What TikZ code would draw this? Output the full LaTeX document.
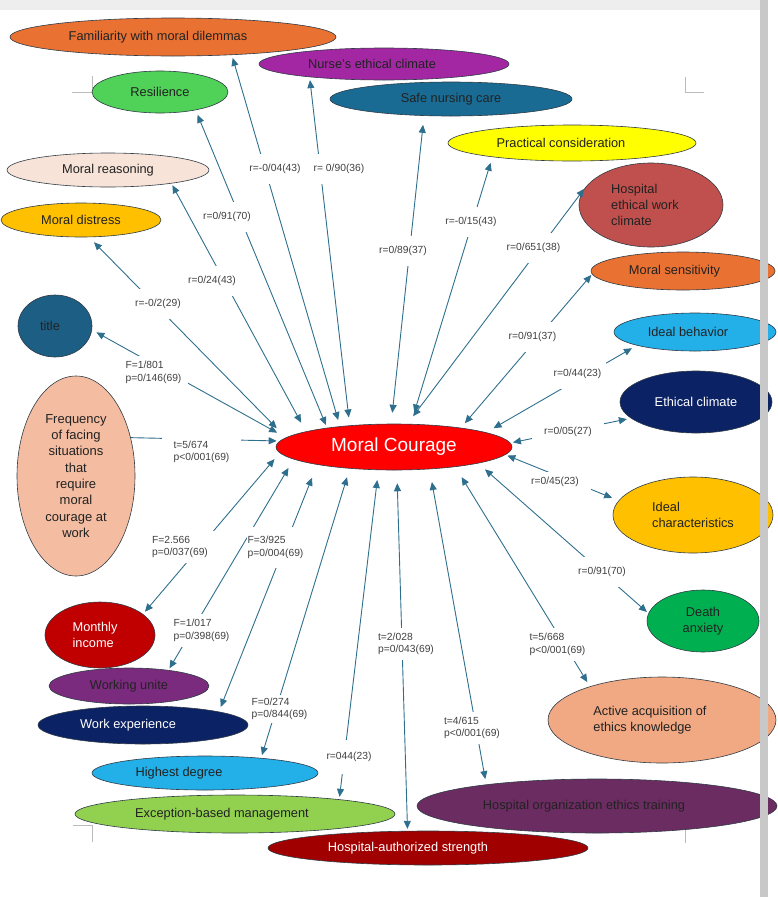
\documentclass[tikz,border=0pt]{standalone}
\usepackage{fontspec}
\setmainfont{Liberation Sans}
\usetikzlibrary{shapes.geometric,arrows.meta}
\definecolor{cFam}{HTML}{E97132}
\definecolor{cNurse}{HTML}{A327A3}
\definecolor{cRes}{HTML}{50D158}
\definecolor{cSafe}{HTML}{196B94}
\definecolor{cPrac}{HTML}{FFFF00}
\definecolor{cReas}{HTML}{F7E3D8}
\definecolor{cHewc}{HTML}{C0504D}
\definecolor{cDist}{HTML}{FFC000}
\definecolor{cSens}{HTML}{E97132}
\definecolor{cTitle}{HTML}{1D5E85}
\definecolor{cIbeh}{HTML}{23AFE8}
\definecolor{cEclim}{HTML}{0B2265}
\definecolor{cFreq}{HTML}{F4BDA2}
\definecolor{cMC}{HTML}{FF0000}
\definecolor{cIchar}{HTML}{FFC000}
\definecolor{cDeath}{HTML}{00B050}
\definecolor{cIncome}{HTML}{C00000}
\definecolor{cUnite}{HTML}{7B2B7E}
\definecolor{cAcq}{HTML}{F1A983}
\definecolor{cWexp}{HTML}{0B2265}
\definecolor{cDegree}{HTML}{23AFE8}
\definecolor{cHoet}{HTML}{6B2C62}
\definecolor{cExc}{HTML}{92D050}
\definecolor{cHas}{HTML}{A00000}
\definecolor{outl}{HTML}{2F3B45}
\definecolor{txt}{HTML}{222222}
\definecolor{arrc}{HTML}{2E6F8E}
\definecolor{lblc}{HTML}{404040}
\definecolor{barc}{HTML}{C8C8C8}
\definecolor{topc}{HTML}{EEEEEE}
\definecolor{markc}{HTML}{BBBBBB}
\newcommand{\myNodeFont}{\fontsize{12.8}{16.3}\selectfont}
\newcommand{\myFreqFont}{\fontsize{13}{16.3}\selectfont}
\newcommand{\myLblFont}{\fontsize{10.3}{12.5}\selectfont}
\newcommand{\myBigFont}{\fontsize{19}{22}\selectfont}
\begin{document}
\begin{tikzpicture}[x=1pt,y=-1pt,
  ell/.style={ellipse, draw=outl, line width=0.6pt, inner sep=0pt, text=txt, font=\myNodeFont},
  conn/.style={draw=arrc, line width=0.9pt, arrows={Triangle[length=8pt,width=7pt]-Triangle[length=8pt,width=7pt]}},
  conn1/.style={draw=arrc, line width=0.9pt, arrows={-Triangle[length=8pt,width=7pt]}},
  lbl/.style={fill=white, inner xsep=5pt, inner ysep=10pt, text=lblc, font=\myLblFont},
  lbl2/.style={fill=white, inner xsep=7pt, inner ysep=5pt, text=lblc, font=\myLblFont, align=left},
  cropmark/.style={draw=markc, line width=0.8pt}]
\useasboundingbox (0,0) rectangle (778,897);
% crop marks
\draw[cropmark] (72,92) -- (92,92) -- (92,76);
\draw[cropmark] (685,77) -- (685,92) -- (704,92);
\draw[cropmark] (73,825) -- (92,825) -- (92,842);
\draw[cropmark] (704,825) -- (685,825) -- (685,843);
% nodes
\node[ell, fill=cFam, minimum width=326pt, minimum height=38pt] (fam) at (173,37) {Familiarity with moral dilemmas\hspace*{30pt}};
\node[ell, fill=cNurse, minimum width=250pt, minimum height=32pt] (nurse) at (384,64) {Nurse’s ethical climate\hspace*{24pt}};
\node[ell, fill=cRes, minimum width=136pt, minimum height=42pt] (res) at (160,92) {Resilience};
\node[ell, fill=cSafe, minimum width=242pt, minimum height=34pt] (safe) at (451,99) {Safe nursing care};
\node[ell, fill=cPrac, minimum width=248pt, minimum height=36pt] (prac) at (572,143) {Practical consideration\hspace*{22pt}};
\node[ell, fill=cReas, minimum width=202pt, minimum height=34pt] (reas) at (108,170) {Moral reasoning};
\node[ell, fill=cHewc, minimum width=144pt, minimum height=84pt, align=left] (hewc) at (651,205) {Hospital\\ethical work\rule{12pt}{0pt}\\climate};
\node[ell, fill=cDist, minimum width=160pt, minimum height=34pt] (dist) at (81,220) {Moral distress};
\node[ell, fill=cSens, minimum width=184pt, minimum height=38pt] (sens) at (683,271) {Moral sensitivity\hspace*{17pt}};
\node[ell, fill=cTitle, minimum width=74pt, minimum height=62pt] (title) at (55,326) {title\hspace*{10pt}};
\node[ell, fill=cIbeh, minimum width=162pt, minimum height=38pt] (ibeh) at (695,332) {Ideal behavior\hspace*{14pt}};
\node[ell, fill=cEclim, minimum width=152pt, minimum height=62pt, text=white] (eclim) at (696,402) {Ethical climate};
\node[ell, fill=cFreq, minimum width=118pt, minimum height=200pt, align=center, font=\myFreqFont] (freq) at (76,476) {Frequency\\of facing\\situations\\that\\require\\moral\\courage at\\work};
\node[ell, fill=cMC, minimum width=236pt, minimum height=46pt, text=white, font=\myBigFont] (mc) at (394,447) {Moral Courage};
\node[ell, fill=cIchar, minimum width=160pt, minimum height=76pt, align=left] (ichar) at (693,515) {Ideal\\characteristics};
\node[ell, fill=cDeath, minimum width=112pt, minimum height=62pt, align=center] (death) at (703,621) {Death\\anxiety};
\node[ell, fill=cIncome, minimum width=110pt, minimum height=66pt, align=left, text=white] (income) at (100,635) {Monthly\rule{10pt}{0pt}\\income};
\node[ell, fill=cUnite, minimum width=160pt, minimum height=36pt] (unite) at (129,686) {Working unite};
\node[ell, fill=cAcq, minimum width=228pt, minimum height=86pt, align=left] (acq) at (662,720) {Active acquisition of\rule{24pt}{0pt}\\ethics knowledge};
\node[ell, fill=cWexp, minimum width=210pt, minimum height=38pt, text=white] (wexp) at (143,725) {Work experience\hspace*{30pt}};
\node[ell, fill=cDegree, minimum width=226pt, minimum height=34pt] (degree) at (205,773) {Highest degree\hspace*{52pt}};
\node[ell, fill=cHoet, minimum width=360pt, minimum height=54pt] (hoet) at (597,806) {Hospital organization ethics training\hspace*{26pt}};
\node[ell, fill=cExc, minimum width=320pt, minimum height=38pt] (exc) at (235,814) {Exception-based management\hspace*{26pt}};
\node[ell, fill=cHas, minimum width=320pt, minimum height=34pt, text=white] (has) at (428,848) {Hospital-authorized strength\hspace*{40pt}};
% connectors
\draw[conn, shorten <=3pt, shorten >=6.5pt] (fam.-17) -- (mc.159);
\draw[conn, shorten <=3pt, shorten >=8pt] (nurse.190) -- (mc.154);
\draw[conn, shorten <=5pt, shorten >=3pt] (res.-27) -- (mc.164);
\draw[conn, shorten <=2pt, shorten >=10pt] (reas.-12) -- (mc.170);
\draw[conn, shorten <=7pt, shorten >=13pt] (dist.-65) -- (mc.175);
\draw[conn, shorten <=5pt, shorten >=10pt] (title.-6) -- (mc.175);
\draw[conn1, shorten >=3pt] (freq.35) -- (mc.177);
\draw[conn, shorten <=3pt, shorten >=8pt] (income.26) -- (mc.183);
\draw[conn, shorten <=2pt, shorten >=10pt] (unite.22) -- (mc.187);
\draw[conn, shorten <=5pt, shorten >=14pt] (wexp.10) -- (mc.193);
\draw[conn, shorten <=3pt, shorten >=9pt] (degree.15) -- (mc.206);
\draw[conn, shorten <=2.5pt, shorten >=10pt] (exc.8) -- (mc.236);
\draw[conn, shorten <=2pt, shorten >=13pt] (has.140) -- (mc.277);
\draw[conn, shorten <=5.5pt, shorten >=13pt] (hoet.169) -- (mc.328);
\draw[conn, shorten <=5pt, shorten >=12pt] (acq.155) -- (mc.342);
\draw[conn, shorten <=2pt, shorten >=9pt] (death.172) -- (mc.349);
\draw[conn, shorten <=7pt, shorten >=2pt] (ichar.169) -- (mc.356);
\draw[conn, shorten <=4pt, shorten >=2.5pt] (eclim.194) -- (mc.2);
\draw[conn, shorten <=5.5pt, shorten >=8.5pt] (ibeh.193) -- (mc.9);
\draw[conn, shorten <=1pt, shorten >=6pt] (sens.182) -- (mc.16);
\draw[conn, shorten <=3pt, shorten >=9.5pt] (hewc.164) -- (mc.60);
\draw[conn, shorten <=6pt, shorten >=12pt] (prac.190) -- (mc.54);
\draw[conn, shorten <=9pt, shorten >=11pt] (safe.212) -- (mc.97);
% labels
\node[lbl] (l1) at (275,169) {r=-0/04(43)};
\node[lbl] (l2) at (339,169) {r= 0/90(36)};
\node[lbl] (l3) at (227,217) {r=0/91(70)};
\node[lbl] (l4) at (212,281) {r=0/24(43)};
\node[lbl] (l5) at (158,304) {r=-0/2(29)};
\node[lbl2] (l6) at (153.5,372.5) {F=1/801\\p=0/146(69)};
\node[lbl2, inner xsep=12pt] (l7) at (201.5,452) {t=5/674\\p<0/001(69)};
\node[lbl2] (l8) at (180,547) {F=2.566\\p=0/037(69)};
\node[lbl2, inner xsep=1pt, inner ysep=9pt] (l9) at (275.5,547.5) {F=3/925\\p=0/004(69)};
\node[lbl2] (l10) at (201.5,630.5) {F=1/017\\p=0/398(69)};
\node[lbl2, inner xsep=2pt, inner ysep=3pt] (l11) at (279.5,709) {F=0/274\\p=0/844(69)};
\node[lbl, inner ysep=12pt] (l12) at (349,757) {r=044(23)};
\node[lbl2] (l13) at (406,644) {t=2/028\\p=0/043(69)};
\node[lbl2] (l14) at (472,728) {t=4/615\\p<0/001(69)};
\node[lbl2] (l15) at (557.5,644.5) {t=5/668\\p<0/001(69)};
\node[lbl] (l16) at (602,572) {r=0/91(70)};
\node[lbl, inner xsep=12pt, inner ysep=5pt] (l17) at (555,482) {r=0/45(23)};
\node[lbl, inner xsep=12pt, inner ysep=5pt] (l18) at (568,432) {r=0/05(27)};
\node[lbl] (l19) at (577.5,374) {r=0/44(23)};
\node[lbl] (l20) at (532.5,337) {r=0/91(37)};
\node[lbl] (l21) at (533.5,248) {r=0/651(38)};
\node[lbl] (l22) at (471,222) {r=-0/15(43)};
\node[lbl] (l23) at (403,251) {r=0/89(37)};
% window bars
\fill[topc] (0,0) rectangle (760,10);
\fill[barc] (760,0) rectangle (768,897);
\end{tikzpicture}
\end{document}
